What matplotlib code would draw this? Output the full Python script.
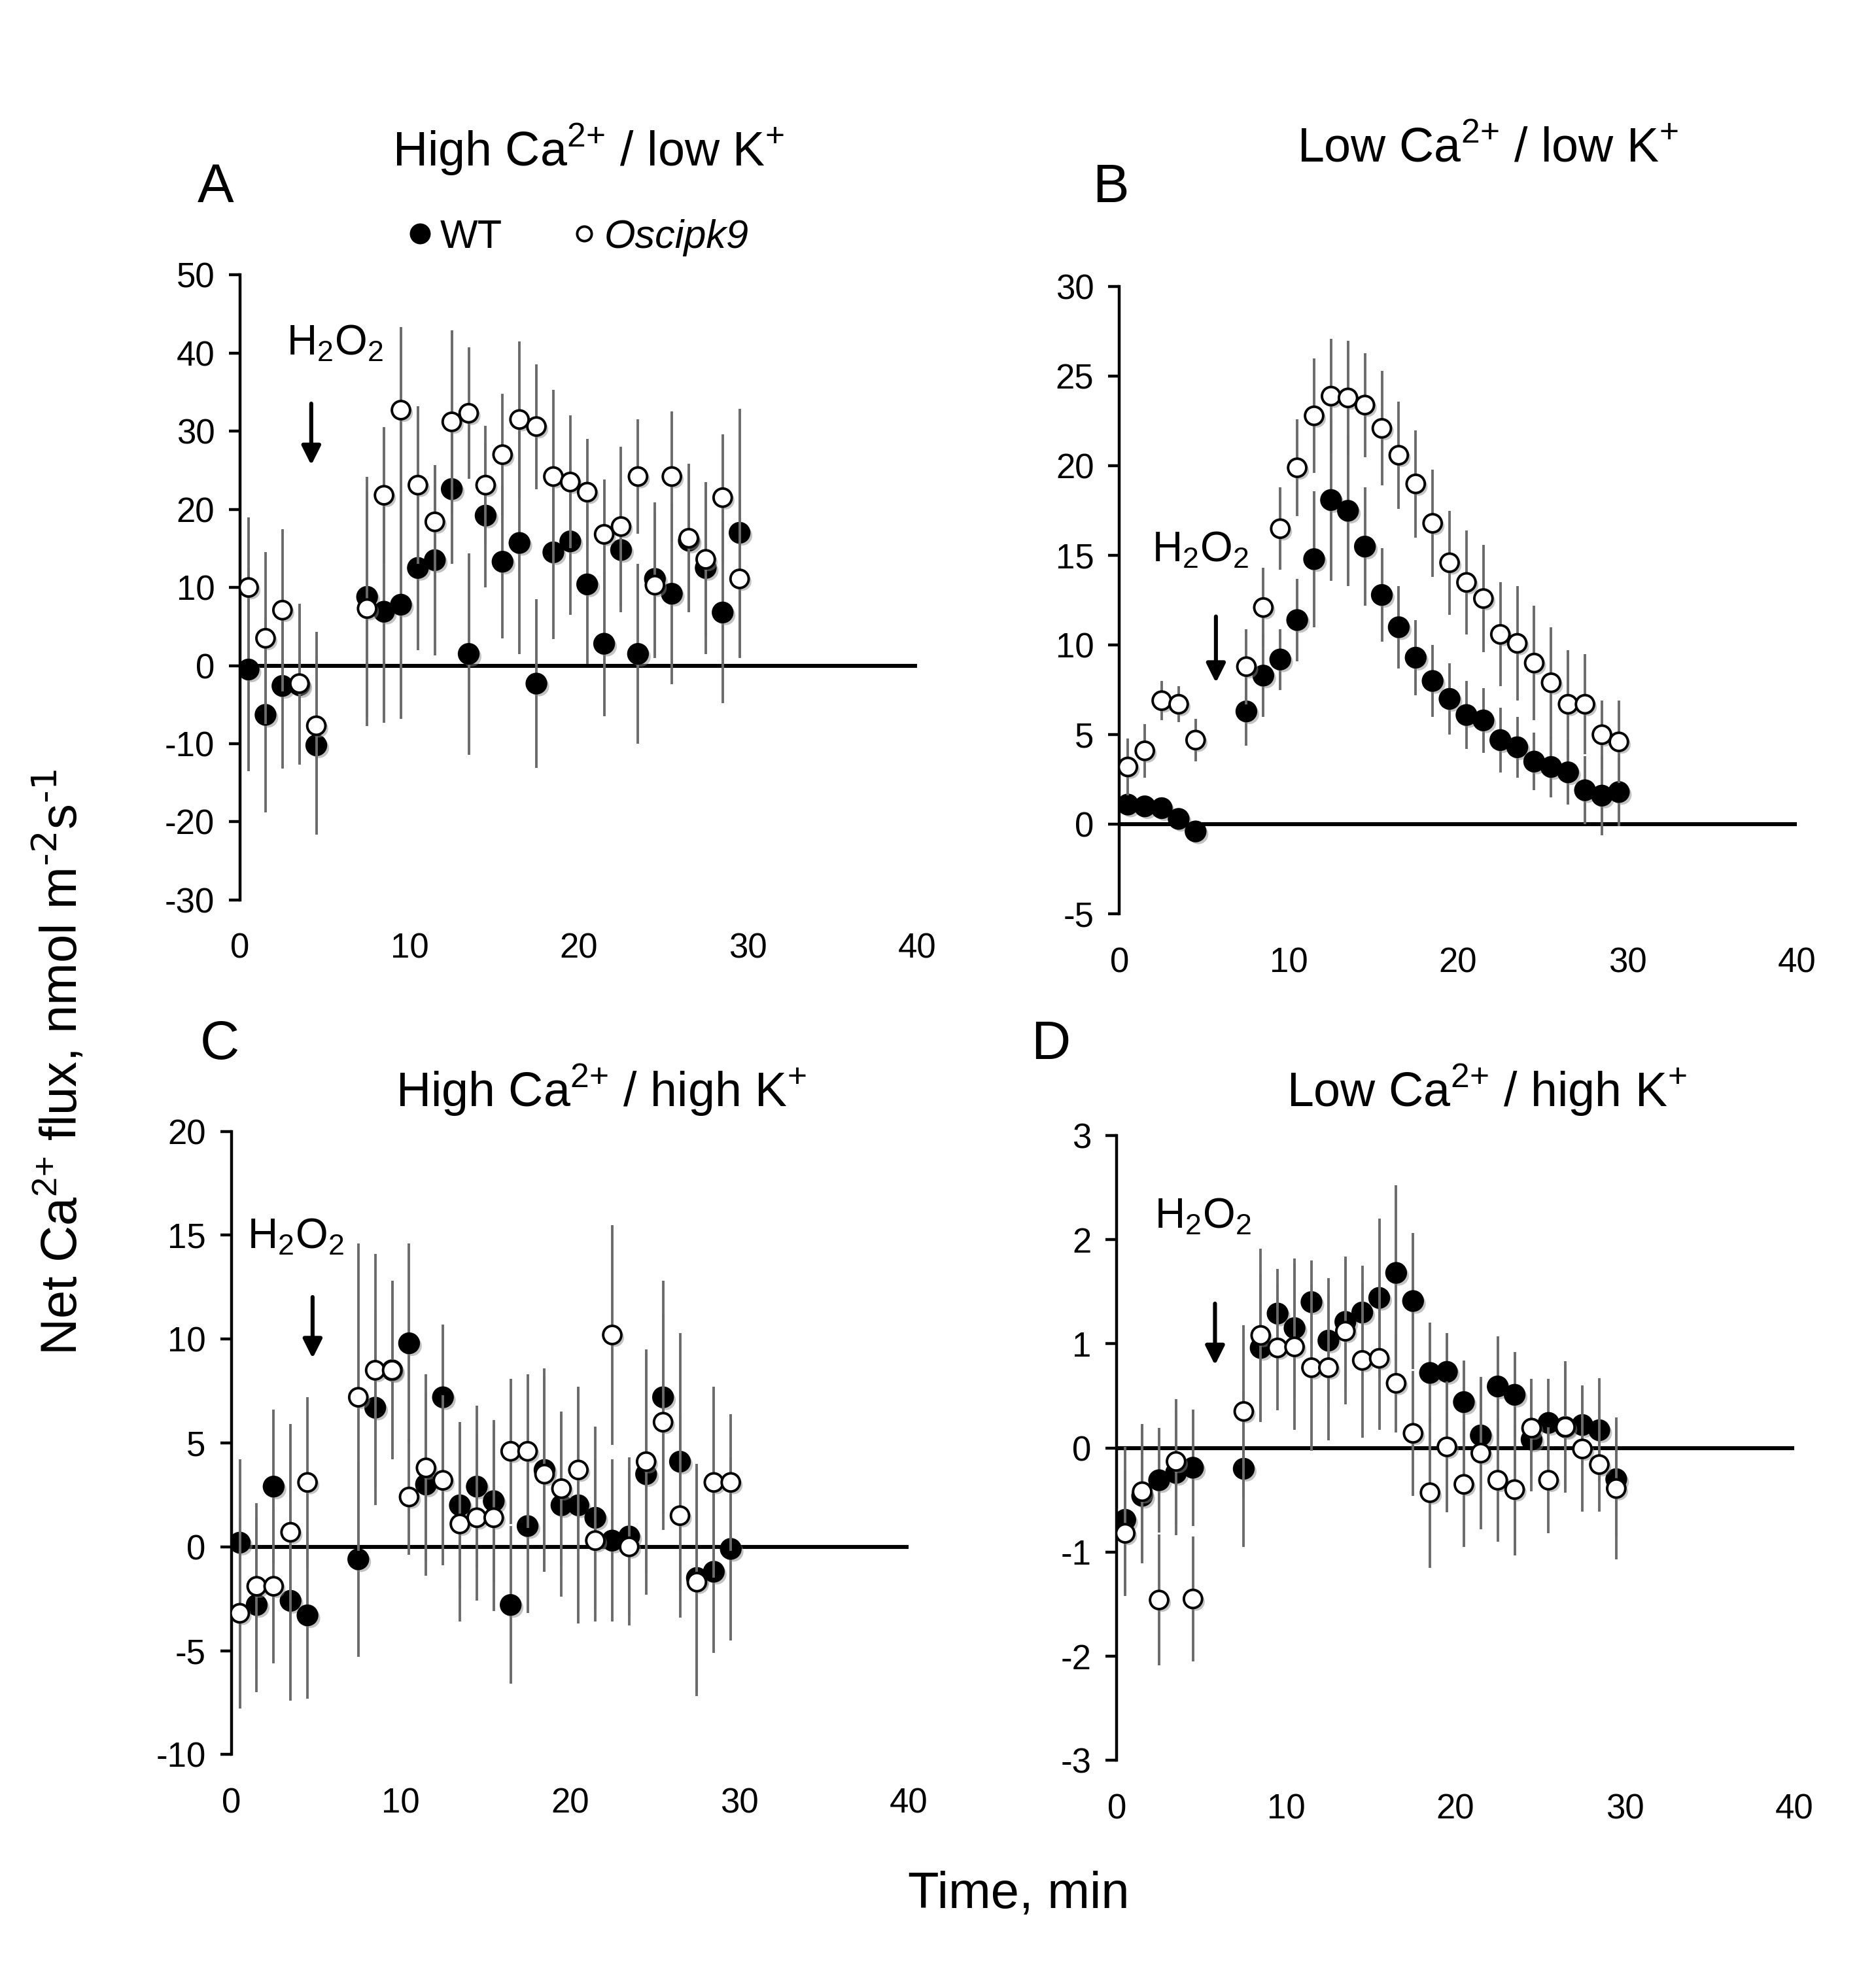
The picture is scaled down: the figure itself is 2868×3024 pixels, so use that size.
import matplotlib
matplotlib.use('Agg')
import matplotlib.pyplot as plt
import matplotlib.patheffects as pe
from matplotlib.lines import Line2D

plt.rcParams['font.family'] = ['Liberation Sans', 'DejaVu Sans']
plt.rcParams['axes.unicode_minus'] = False

# sampling times (min)
time = [0.5, 1.5, 2.5, 3.5, 4.5, 7.5, 8.5, 9.5, 10.5, 11.5, 12.5, 13.5, 14.5, 15.5,
        16.5, 17.5, 18.5, 19.5, 20.5, 21.5, 22.5, 23.5, 24.5, 25.5, 26.5, 27.5, 28.5, 29.5]

# A: High Ca2+ / low K+
a_wt = [-0.5, -6.3, -2.6, -2.5, -10.2, 8.8, 6.9, 7.8, 12.5, 13.5, 22.6, 1.5, 19.2, 13.3,
        15.7, -2.3, 14.5, 15.9, 10.4, 2.8, 14.8, 1.5, 11.1, 9.2, 16.0, 12.5, 6.8, 17.0]
a_wt_err = [13, 12.5, 10.6, 10.2, 11.4, 15.4, 14.2, 14.6, 10.5, 12.2, 9.6, 12.9, 9.2, 9.8,
            14.2, 10.8, 11.1, 9.4, 10.2, 9.3, 8, 11.5, 9.8, 11.6, 9, 11, 11.6, 15.9]
a_mut = [10.0, 3.5, 7.1, -2.3, -7.7, 7.3, 21.8, 32.7, 23.1, 18.4, 31.2, 32.3, 23.1, 27.0,
         31.5, 30.6, 24.2, 23.5, 22.2, 16.8, 17.8, 24.2, 10.3, 24.2, 16.3, 13.6, 21.5, 11.1]
a_mut_err = [9, 11, 10.4, 10.2, 12, 15, 8.7, 10.6, 10.1, 7.2, 11.7, 8.4, 7.6, 7.8,
             10, 8, 11.1, 8.5, 6.8, 7, 10.2, 7.3, 9.3, 8.3, 9.5, 9.8, 8.1, 10.1]

# B: Low Ca2+ / low K+
b_wt = [1.1, 1.0, 0.9, 0.3, -0.4, 6.3, 8.3, 9.2, 11.4, 14.8, 18.1, 17.5, 15.5, 12.8,
        11.0, 9.3, 8.0, 7.0, 6.1, 5.8, 4.7, 4.3, 3.5, 3.2, 2.9, 1.9, 1.6, 1.8]
b_wt_err = [0.4, 0.4, 0.4, 0.4, 0.4, 1.9, 2.3, 1.7, 2.3, 3.8, 4.5, 4.2, 3.3, 2.6,
            2.3, 2.1, 2.0, 2.0, 1.9, 1.8, 1.8, 1.7, 1.6, 1.7, 1.8, 1.9, 2.2, 1.9]
b_mut = [3.2, 4.1, 6.9, 6.7, 4.7, 8.8, 12.1, 16.5, 19.9, 22.8, 23.9, 23.8, 23.4, 22.1,
         20.6, 19.0, 16.8, 14.6, 13.5, 12.6, 10.6, 10.1, 9.0, 7.9, 6.7, 6.7, 5.0, 4.6]
b_mut_err = [1.6, 1.5, 1.1, 1.0, 1.2, 2.1, 2.2, 2.3, 2.7, 3.2, 3.2, 3.2, 2.9, 3.2,
             3.0, 3.0, 3.0, 2.9, 2.9, 3.0, 2.9, 3.2, 3.2, 3.1, 3.0, 2.8, 1.9, 2.3]

# C: High Ca2+ / high K+
c_wt = [0.2, -2.8, 2.9, -2.6, -3.3, -0.6, 6.7, 8.5, 9.8, 3.0, 7.2, 2.0, 2.9, 2.2,
        -2.8, 1.0, 3.7, 2.0, 2.0, 1.4, 0.3, 0.5, 3.5, 7.2, 4.1, -1.5, -1.2, -0.1]
c_wt_err = [4, 4.2, 3.7, 4.8, 4, 4.7, 4.7, 4.3, 4.8, 4.4, 3.5, 4, 3.9, 3.9,
            3.8, 4.2, 4.9, 4.4, 5.7, 4.4, 3.9, 3.8, 5.8, 5.6, 6.2, 5.5, 3.9, 4.4]
c_mut = [-3.2, -1.9, -1.9, 0.7, 3.1, 7.2, 8.5, 8.5, 2.4, 3.8, 3.2, 1.1, 1.4, 1.4,
         4.6, 4.6, 3.5, 2.8, 3.7, 0.3, 10.2, 0.0, 4.1, 6.0, 1.5, -1.7, 3.1, 3.1]
c_mut_err = [4.6, 4, 3.7, 5.2, 4.1, 7.4, 5.6, 4.3, 2.8, 4.5, 4.1, 4.7, 4, 4.5,
             3.5, 3.7, 4.7, 3.7, 3.9, 3.9, 5.3, 3.8, 5.4, 5.2, 4.9, 5.5, 4.6, 3.3]

# D: Low Ca2+ / high K+
d_wt = [-0.69, -0.46, -0.31, -0.24, -0.19, -0.2, 0.96, 1.29, 1.15, 1.40, 1.03, 1.21, 1.30, 1.44,
        1.68, 1.41, 0.72, 0.73, 0.44, 0.12, 0.59, 0.51, 0.08, 0.24, 0.2, 0.22, 0.17, -0.3]
d_wt_err = [0.7, 0.65, 0.5, 0.6, 0.56, 0.75, 0.7, 0.43, 0.67, 0.4, 0.6, 0.63, 0.45, 0.76,
            0.84, 0.65, 0.48, 0.37, 0.4, 0.54, 0.48, 0.41, 0.5, 0.42, 0.6, 0.38, 0.5, 0.55]
d_mut = [-0.82, -0.42, -1.46, -0.13, -1.45, 0.35, 1.08, 0.96, 0.97, 0.77, 0.77, 1.12, 0.84, 0.86,
         0.62, 0.14, -0.43, 0.01, -0.35, -0.05, -0.31, -0.40, 0.19, -0.31, 0.2, -0.01, -0.16, -0.39]
d_mut_err = [0.6, 0.65, 0.63, 0.6, 0.6, 0.83, 0.83, 0.6, 0.8, 0.8, 0.7, 0.7, 0.74, 0.69,
             0.47, 0.6, 0.72, 0.63, 0.6, 0.73, 0.59, 0.63, 0.47, 0.51, 0.63, 0.6, 0.45, 0.68]

ca = 'Ca$^{\\mathregular{2{+}}}$'
k = 'K$^{\\mathregular{{+}}}$'
titles = ['High ' + ca + ' / low ' + k,
          'Low ' + ca + ' / low ' + k,
          'High ' + ca + ' / high ' + k,
          'Low ' + ca + ' / high ' + k]
letters = ['A', 'B', 'C', 'D']
yticks = [range(-30, 51, 10), range(-5, 31, 5), range(-10, 21, 5), range(-3, 4, 1)]
h2o2 = 'H$_\\mathregular{2}$O$_\\mathregular{2}$'

panels = [
    dict(pos=[0.128, 0.545, 0.361, 0.316], wt=a_wt, we=a_wt_err, mu=a_mut, me=a_mut_err,
         title_xy=(0.514, 1.20), letter_xy=(0.115, 0.905),
         arrow=(4.2, 34, 25.2), txt=(5.6, 41.2)),
    dict(pos=[0.5967, 0.538, 0.361, 0.317], wt=b_wt, we=b_wt_err, mu=b_mut, me=b_mut_err,
         title_xy=(0.544, 1.22), letter_xy=(0.592, 0.905),
         arrow=(5.7, 11.8, 7.7), txt=(4.8, 15.3)),
    dict(pos=[0.1233, 0.113, 0.361, 0.315], wt=c_wt, we=c_wt_err, mu=c_mut, me=c_mut_err,
         title_xy=(0.546, 1.066), letter_xy=(0.117, 0.472),
         arrow=(4.8, 12.2, 8.9), txt=(3.8, 14.9)),
    dict(pos=[0.5953, 0.110, 0.361, 0.316], wt=d_wt, we=d_wt_err, mu=d_mut, me=d_mut_err,
         title_xy=(0.546, 1.072), letter_xy=(0.56, 0.472),
         arrow=(5.8, 1.42, 0.76), txt=(5.1, 2.22)),
]

shadow = [pe.SimplePatchShadow(offset=(1.5, -1.5), shadow_rgbFace='#888888', alpha=0.5),
          pe.Normal()]

fig = plt.figure(figsize=(14.34, 15.12), dpi=200)

for i, p in enumerate(panels):
    ax = fig.add_axes(p['pos'])
    yt = list(yticks[i])
    ax.set_xlim(0, 40)
    ax.set_ylim(yt[0], yt[-1])
    ax.axhline(0, color='black', lw=2.2, zorder=1)
    wt = ax.errorbar(time, p['wt'], yerr=p['we'], fmt='o', color='black', ms=11,
                     mec='black', ecolor='#6b6b6b', elinewidth=1.4, capsize=0, zorder=3)
    mu = ax.errorbar(time, p['mu'], yerr=p['me'], fmt='o', color='black', ms=10,
                     mfc='white', mec='black', mew=1.4, ecolor='#6b6b6b', elinewidth=1.4,
                     capsize=0, zorder=4)
    wt[0].set_path_effects(shadow)
    mu[0].set_path_effects(shadow)
    for s in ['top', 'right', 'bottom']:
        ax.spines[s].set_visible(False)
    ax.spines['left'].set_linewidth(1.6)
    ax.set_yticks(yt)
    ax.set_xticks([0, 10, 20, 30, 40])
    ax.tick_params(axis='y', direction='out', length=6, width=1.6, labelsize=19, pad=8)
    ax.tick_params(axis='x', length=0, labelsize=19, pad=18)
    ax.text(p['title_xy'][0], p['title_xy'][1], titles[i], transform=ax.transAxes,
            ha='center', va='center', fontsize=26.5)
    fig.text(p['letter_xy'][0], p['letter_xy'][1], letters[i], fontsize=30,
             ha='center', va='center')
    ax_x, y0, y1 = p['arrow']
    ax.annotate('', xy=(ax_x, y1), xytext=(ax_x, y0),
                arrowprops=dict(arrowstyle='-|>', color='black', lw=2.2,
                                mutation_scale=22))
    ax.text(p['txt'][0], p['txt'][1], h2o2, ha='center', va='center', fontsize=23)

    if i == 0:
        handles = [Line2D([], [], marker='o', ls='', color='black', ms=10.5),
                   Line2D([], [], marker='o', ls='', mfc='white', mec='black', mew=1.4, ms=8)]
        leg = ax.legend(handles, ['WT', 'Oscipk9'], loc='center', bbox_to_anchor=(0.495, 1.06),
                        ncol=2, frameon=False, fontsize=22, handletextpad=0.05,
                        columnspacing=1.6, handlelength=0.9)
        leg.get_texts()[1].set_style('italic')

ylab = 'Net ' + ca + ' flux, nmol m$^{\\text{-2}}$s$^{\\text{-1}}$'
fig.text(0.032, 0.463, ylab, rotation=90, ha='center', va='center', fontsize=28)
fig.text(0.543, 0.042, 'Time, min', ha='center', va='center', fontsize=28)

fig.savefig('out.png', dpi=200, facecolor='white')
